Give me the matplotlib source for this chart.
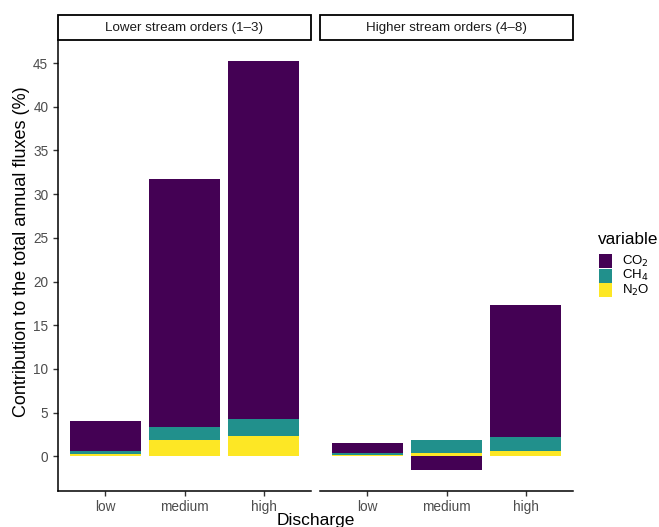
import numpy as np
import matplotlib.pyplot as plt
from matplotlib.patches import Rectangle

plt.rcParams["font.family"] = ["Liberation Sans", "DejaVu Sans"]

discharge = ["low", "medium", "high"]
facets = ["Lower stream orders (1\u20133)", "Higher stream orders (4\u20138)"]
gases = ["CO$_2$", "CH$_4$", "N$_2$O"]
colors = ["#440154", "#21908C", "#FDE725"]

# contribution (%) per facet, per gas, per discharge class
lower_co2 = [3.35, 28.4, 41.05]
lower_ch4 = [0.40, 1.50, 1.95]
lower_n2o = [0.25, 1.80, 2.30]
higher_co2 = [1.10, -1.60, 15.15]
higher_ch4 = [0.25, 1.45, 1.50]
higher_n2o = [0.15, 0.35, 0.65]

data = [
    [lower_co2, lower_ch4, lower_n2o],
    [higher_co2, higher_ch4, higher_n2o],
]

W, H = 659, 527
fig = plt.figure(figsize=(W / 100, H / 100), dpi=100)

panel_x = [58, 320]
pw = 253
ptop, pbot = 40, 490.7
ylim = (-3.95, 47.65)
tick_col = "#4D4D4D"

x = np.arange(1, 4)
for k in range(2):
    ax = fig.add_axes([panel_x[k] / W, 1 - pbot / H, pw / W, (pbot - ptop) / H])
    pos = np.zeros(3)
    neg = np.zeros(3)
    # stack order: N2O at bottom, then CH4, CO2 on top
    for gi in [2, 1, 0]:
        vals = np.array(data[k][gi])
        bottom = np.where(vals >= 0, pos, neg)
        ax.bar(x, vals, width=0.9, bottom=bottom, color=colors[gi], linewidth=0)
        pos = pos + np.where(vals >= 0, vals, 0)
        neg = neg + np.where(vals < 0, vals, 0)
    ax.set_xlim(0.4, 3.6)
    ax.set_ylim(*ylim)
    ax.set_xticks(x)
    ax.set_xticklabels(discharge)
    ax.set_yticks(np.arange(0, 50, 5))
    for s in ["top", "right"]:
        ax.spines[s].set_visible(False)
    ax.spines["bottom"].set_linewidth(1.1)
    ax.spines["left"].set_linewidth(1.1)
    ax.tick_params(colors="#333333", labelcolor=tick_col, labelsize=9.8, length=3.5, width=1)
    if k == 1:
        ax.spines["left"].set_visible(False)
        ax.tick_params(axis="y", left=False, labelleft=False)
    # facet strip
    sx0 = panel_x[k] / W
    strip = Rectangle((sx0, 1 - 40 / H), pw / W, 25 / H, transform=fig.transFigure,
                      facecolor="white", edgecolor="black", linewidth=1.3)
    fig.patches.append(strip)
    fig.text(sx0 + pw / W / 2, 1 - 27.5 / H, facets[k], ha="center", va="center",
             fontsize=9.6, color="#1A1A1A")

fig.text(22 / W, 1 - 252 / H, "Contribution to the total annual fluxes (%)",
         rotation=90, ha="center", va="center", fontsize=13)
fig.text(316 / W, 1 - 520 / H, "Discharge", ha="center", va="center", fontsize=12.5)

# legend
fig.text(598 / W, 1 - 240 / H, "variable", ha="left", va="center", fontsize=12.3)
for i, (g, c) in enumerate(zip(gases, colors)):
    y0 = 254 + 14.5 * i
    fig.patches.append(Rectangle((599 / W, 1 - (y0 + 14) / H), 13 / W, 14 / H,
                                 transform=fig.transFigure, facecolor=c, edgecolor="none"))
    fig.text(622 / W, 1 - (y0 + 7) / H, g, ha="left", va="center", fontsize=9.5)

fig.savefig("out.png", dpi=100)
